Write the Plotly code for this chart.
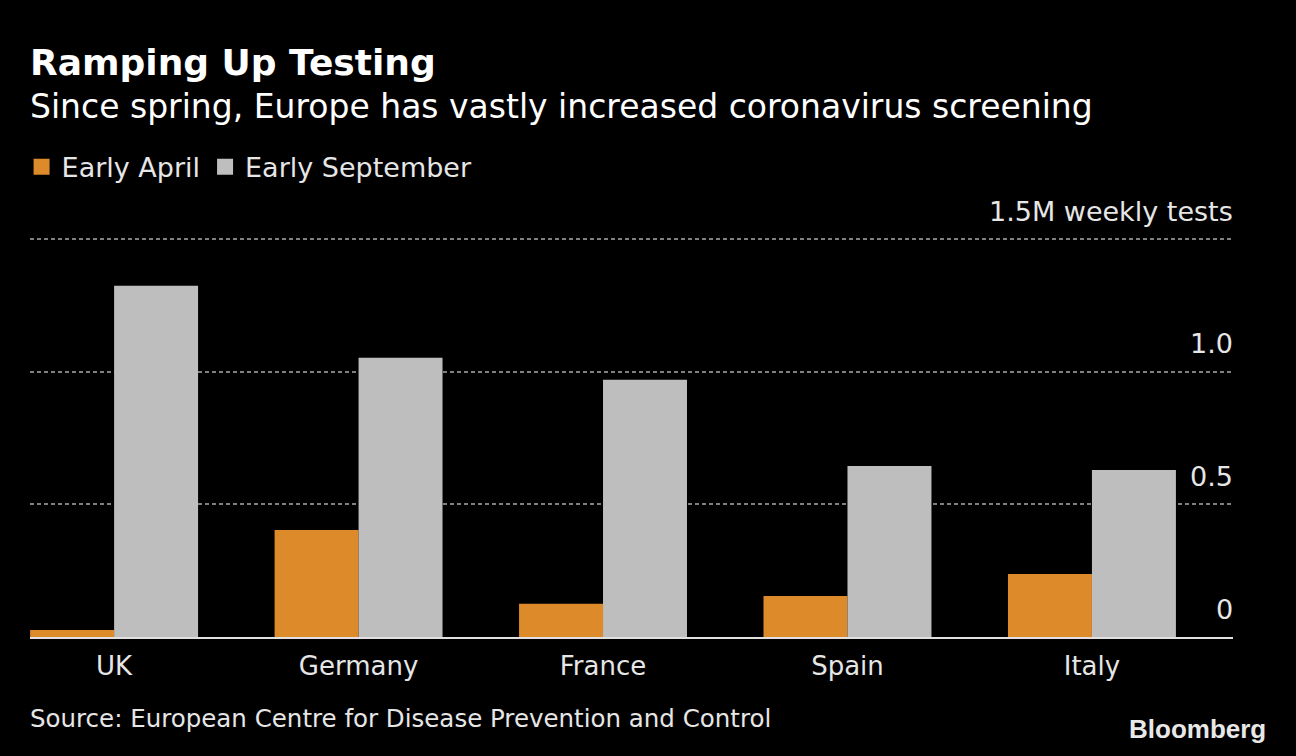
import plotly.graph_objects as go

countries = ["UK", "Germany", "France", "Spain", "Italy"]
early_april = [0.026, 0.404, 0.125, 0.155, 0.238]
early_september = [1.325, 1.053, 0.970, 0.645, 0.630]
y_ticks = [0, 0.5, 1.0, 1.5]
y_tick_labels = ["0", "0.5", "1.0", "1.5M weekly tests"]

ORANGE = "#DC8A2A"
GREY = "#BEBEBE"
TXT = "#E6E6E6"
FONT = "DejaVu Sans, sans-serif"

fig = go.Figure()
fig.add_trace(go.Bar(x=countries, y=early_april, marker=dict(color=ORANGE, line=dict(width=0)),
                     name="Early April", showlegend=False))
fig.add_trace(go.Bar(x=countries, y=early_september, marker=dict(color=GREY, line=dict(width=0)),
                     name="Early September", showlegend=False))
# legend entries
fig.add_trace(go.Scatter(x=[None], y=[None], mode="markers", name="Early April",
                         marker=dict(symbol="square", size=20, color=ORANGE)))
fig.add_trace(go.Scatter(x=[None], y=[None], mode="markers", name="Early September",
                         marker=dict(symbol="square", size=20, color=GREY)))

for v, lab in zip(y_ticks, y_tick_labels):
    fig.add_annotation(x=1, xref="paper", xanchor="right", y=v, yref="y", yanchor="middle",
                       yshift=28, xshift=2, text=lab, showarrow=False,
                       font=dict(family=FONT, size=27, color=TXT))

fig.add_annotation(x=0, xref="paper", xanchor="left", y=1, yref="paper", yanchor="top",
                   text="<b>Ramping Up Testing</b>", showarrow=False, yshift=194, xshift=-2,
                   font=dict(family="DejaVu Sans, sans-serif", size=36, color="#FFFFFF"))
fig.add_annotation(x=0, xref="paper", xanchor="left", y=1, yref="paper", yanchor="top",
                   text="Since spring, Europe has vastly increased coronavirus screening",
                   showarrow=False, yshift=149, xshift=-2,
                   font=dict(family=FONT, size=33, color="#FFFFFF"))
fig.add_annotation(x=0, xref="paper", xanchor="left", y=0, yref="paper", yanchor="middle",
                   text="Source: European Centre for Disease Prevention and Control",
                   showarrow=False, yshift=-81, xshift=-2,
                   font=dict(family=FONT, size=24.5, color=TXT))
fig.add_annotation(x=1, xref="paper", xanchor="right", y=0, yref="paper", yanchor="middle",
                   text="<b>Bloomberg</b>", showarrow=False, yshift=-92, xshift=35,
                   font=dict(family="Liberation Sans, Arial, sans-serif", size=26, color="#E8E8E8"))

fig.update_layout(
    width=1296, height=756,
    paper_bgcolor="#000000", plot_bgcolor="#000000",
    margin=dict(l=30, r=63, t=234, b=119),
    barmode="group", bargap=0.313, bargroupgap=0,
    font=dict(family=FONT, color=TXT),
    showlegend=True,
    legend=dict(orientation="h", x=-0.007, xanchor="left", y=1.166, yanchor="middle", yref="paper",
                font=dict(family=FONT, size=27, color=TXT), bgcolor="rgba(0,0,0,0)",
                itemsizing="trace", traceorder="normal"),
    xaxis=dict(range=[-0.344, 4.577], showgrid=False, showline=True, linecolor="#E0E0E0",
               linewidth=2, ticks="", tickfont=dict(family=FONT, size=26, color=TXT),
               ticklabelstandoff=5, zeroline=False, fixedrange=True),
    yaxis=dict(range=[0, 1.52], tickvals=y_ticks, showticklabels=False, showgrid=True,
               gridcolor="#808080", griddash="4px,3px", gridwidth=2, zeroline=False,
               showline=False, fixedrange=True),
)

fig.write_html("out.html", config={"displayModeBar": False},
               post_script="document.body.style.margin='0';document.body.style.background='#000';")
